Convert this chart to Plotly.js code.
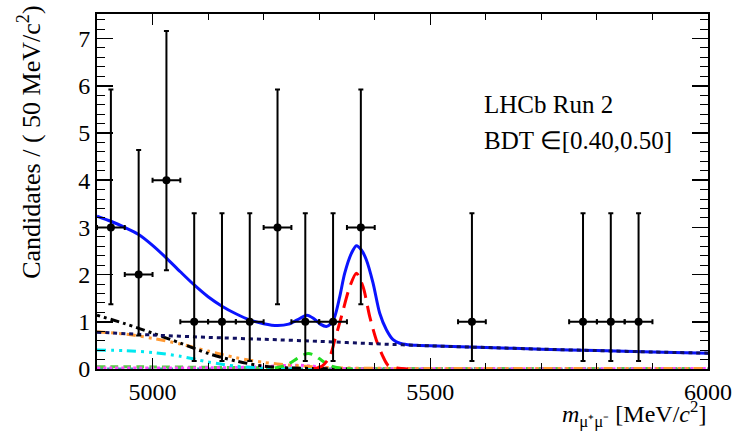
<!DOCTYPE html>
<html>
<head>
<meta charset="utf-8">
<script src="https://cdn.plot.ly/plotly-3.0.1.min.js"></script>
<style>html,body{margin:0;padding:0;background:#fff;}</style>
</head>
<body>
<div id="chart" style="width:736px;height:433px;"></div>
<script>
// Data points (non-empty 50 MeV bins)
const binCenters = [4925, 4975, 5025, 5075, 5125, 5175, 5225, 5275, 5325, 5375, 5575, 5775, 5825, 5875];
const counts     = [3, 2, 4, 1, 1, 1, 3, 1, 1, 3, 1, 1, 1, 1];
const errHigh    = [2.92, 2.64, 3.16, 2.30, 2.30, 2.30, 2.92, 2.30, 2.30, 2.92, 2.30, 2.30, 2.30, 2.30];
const errLow     = [1.63, 1.29, 1.91, 0.83, 0.83, 0.83, 1.63, 0.83, 0.83, 1.63, 0.83, 0.83, 0.83, 0.83];
const binHalfWidth = 25;

// Total fit (blue)
const totalX = [4900,4925,4950,4975,5000,5025,5050,5075,5100,5125,5150,5175,5200,5225,5245,5265,5278,5290,5302,5313,5320,5328,5337,5346,5358,5367,5376,5385,5397,5409,5421,5433,5445,5460,5480,5500,5600,5700,5800,5900,6000];
const totalY = [3.24,3.13,3.0,2.85,2.62,2.35,2.06,1.78,1.53,1.33,1.17,1.04,0.96,0.92,0.95,1.07,1.14,1.07,0.95,0.90,0.95,1.11,1.53,2.03,2.45,2.61,2.52,2.31,1.82,1.18,0.83,0.62,0.545,0.515,0.50,0.49,0.455,0.42,0.39,0.36,0.335];

// Bs signal (red long dash)
const bsX = [5290,5305,5319,5328,5340,5355,5367,5379,5391,5403,5415,5424,5440,5460];
const bsY = [0.01,0.06,0.26,0.61,1.11,1.74,2.03,1.74,1.11,0.61,0.26,0.08,0.02,0.0];

// B0 (green dashed)
const bdX = [5220,5240,5260,5270,5280,5290,5300,5320,5340,5360];
const bdY = [0.02,0.08,0.22,0.29,0.33,0.30,0.22,0.07,0.015,0.0];

// Combinatorial (navy dotted)
const combX = [4900,5000,5100,5200,5300,5400,5500,5600,5700,5800,5900,6000];
const combY = [0.78,0.72,0.67,0.63,0.585,0.535,0.49,0.455,0.42,0.39,0.36,0.335];

// Black dash-dot component
const blkX = [4900,4950,5000,5050,5100,5150,5200,5250,5300,5350];
const blkY = [1.14,0.96,0.76,0.55,0.33,0.17,0.06,0.02,0.01,0.0];

// Orange dash-dot component
const orgX = [4900,4950,5000,5050,5100,5150,5200,5250,5300,5350,5400,5500,6000];
const orgY = [0.79,0.74,0.65,0.53,0.38,0.24,0.14,0.08,0.04,0.02,0.015,0.01,0.01];

// Cyan dash-dot component
const cynX = [4900,4950,5000,5050,5100,5150,5200,5250,5300];
const cynY = [0.40,0.39,0.35,0.27,0.15,0.06,0.02,0.005,0.0];

// Small components near zero
const limX = [4900,5000,5100,5200,5300,5400,6000];
const limY = [0.05,0.045,0.035,0.025,0.015,0.01,0.01];
const magX = [4900,5000,5100,5150,5200,5230,5260,5290,5320,5350,6000];
const magY = [0.02,0.02,0.025,0.03,0.05,0.07,0.08,0.06,0.02,0.01,0.01];
const tealX = [4900,5500,6000];
const tealY = [0.006,0.006,0.006];

const F = "'Liberation Serif', 'Times New Roman', serif";
const lineTrace = (x, y, color, dash, width) => ({
  type: 'scatter', mode: 'lines', x: x, y: y,
  line: {color: color, dash: dash, width: width || 3, shape: 'spline', smoothing: 0.8},
  hoverinfo: 'skip', showlegend: false
});

const traces = [
  lineTrace(tealX, tealY, '#33aaaa', '6px,4px', 2.5),
  lineTrace(limX, limY, '#55cc44', '8px,5px', 3),
  lineTrace(magX, magY, '#ff44ff', '3px,3px', 3),
  lineTrace(totalX, totalY, '#0a14ff', 'solid', 3),
  lineTrace(cynX, cynY, '#00e8f0', '9px,5px,3px,5px,3px,5px', 3),
  lineTrace(orgX, orgY, '#ff9933', '9px,5px,3px,5px,3px,5px', 3),
  lineTrace(blkX, blkY, '#000000', '3px,4px,3px,4px,9px,4px', 3),
  lineTrace(bdX, bdY, '#22dd22', '9px,7px', 3),
  lineTrace(bsX, bsY, '#ff0000', '16px,8px', 3),
  lineTrace(combX, combY, '#101060', '4px,4px', 3),
  {
    type: 'scatter', mode: 'markers', x: binCenters, y: counts,
    marker: {color: '#000', size: 8},
    error_y: {type: 'data', symmetric: false, array: errHigh, arrayminus: errLow, color: '#000', thickness: 2, width: 2.5},
    error_x: {type: 'constant', value: binHalfWidth, color: '#000', thickness: 2, width: 2.5},
    hoverinfo: 'skip', showlegend: false
  }
];

const axisCommon = {
  showgrid: false, zeroline: false, showline: true, linecolor: '#000', linewidth: 2,
  mirror: 'allticks', ticks: 'inside', tickcolor: '#000', tickwidth: 1.5,
  tickfont: {family: F, size: 24, color: '#000'}
};

const layout = {
  width: 736, height: 433,
  margin: {l: 97, r: 28, t: 14, b: 64},
  paper_bgcolor: '#fff', plot_bgcolor: '#fff',
  xaxis: Object.assign({}, axisCommon, {
    range: [4900, 6000], tick0: 5000, dtick: 500, ticklen: 11,
    minor: {dtick: 100, tick0: 5000, ticklen: 6, ticks: 'inside', tickcolor: '#000', tickwidth: 1}
  }),
  yaxis: Object.assign({}, axisCommon, {
    range: [0, 7.52], tick0: 0, dtick: 1, ticklen: 16,
    minor: {dtick: 0.2, tick0: 0, ticklen: 8, ticks: 'inside', tickcolor: '#000', tickwidth: 1}
  }),
  annotations: [
    {xref: 'paper', yref: 'paper', x: 0.630, y: 0.744, xanchor: 'left', yanchor: 'middle',
     text: 'LHCb Run 2', showarrow: false, font: {family: F, size: 25, color: '#000'}},
    {xref: 'paper', yref: 'paper', x: 0.630, y: 0.645, xanchor: 'left', yanchor: 'middle',
     text: 'BDT ∈[0.40,0.50]', showarrow: false, font: {family: F, size: 25, color: '#000'}},
    {xref: 'paper', yref: 'paper', x: -0.1097, y: 1.03, xanchor: 'center', yanchor: 'top',
     textangle: -90, text: 'Candidates / ( 50 MeV/c<sup>2</sup>)', showarrow: false,
     font: {family: F, size: 26, color: '#000'}},
    {xref: 'paper', yref: 'paper', x: 1.0, y: -0.126, xanchor: 'right', yanchor: 'middle',
     text: '<i>m</i><sub>μ⁺μ⁻</sub> [MeV/<i>c</i><sup>2</sup>]', showarrow: false,
     font: {family: F, size: 24, color: '#000'}}
  ]
};

Plotly.newPlot('chart', traces, layout, {staticPlot: true, displayModeBar: false});
</script>
</body>
</html>
